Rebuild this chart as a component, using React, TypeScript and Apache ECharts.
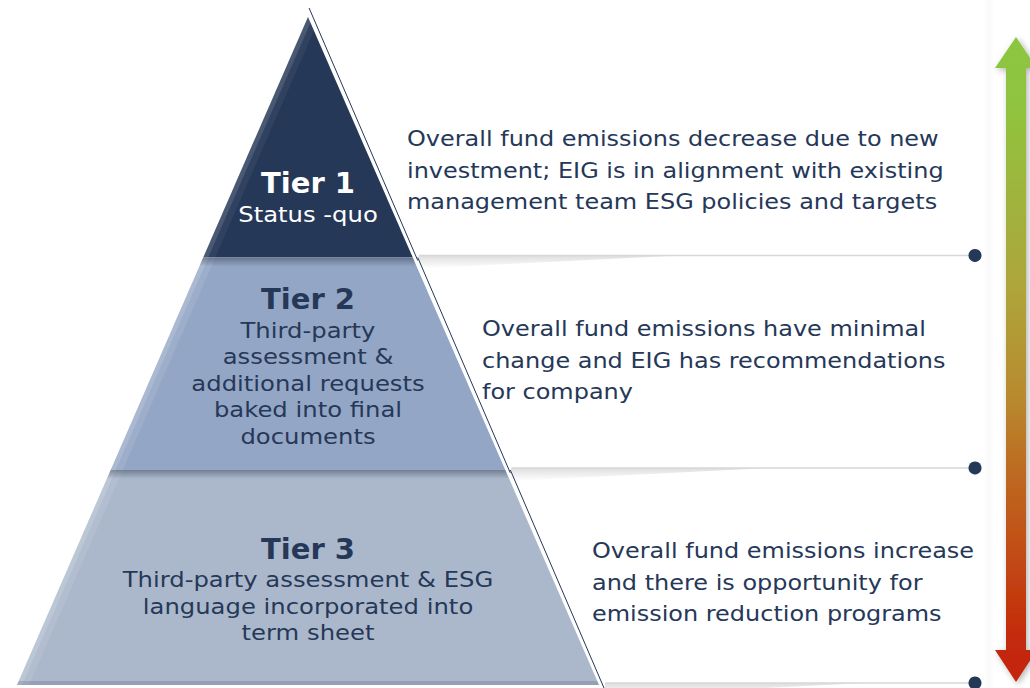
import React, { useEffect, useRef } from "react";
import * as echarts from "echarts";

// ---- data ----
const tierNames = ["Tier 1", "Tier 2", "Tier 3"];
const tierSubtitles = [
  "Status -quo",
  "Third-party\nassessment &\nadditional requests\nbaked into final\ndocuments",
  "Third-party assessment & ESG\nlanguage incorporated into\nterm sheet",
];
// tier extents on a 0 (apex) .. 100 (base) scale
const tierStart = [0, 36, 67.8];
const tierEnd = [36, 67.8, 100];
const descriptions = [
  "Overall fund emissions decrease due to new\ninvestment; EIG is in alignment with existing\nmanagement team ESG policies and targets",
  "Overall fund emissions have minimal\nchange and EIG has recommendations\nfor company",
  "Overall fund emissions increase\nand there is opportunity for\nemission reduction programs",
];

// ---- styles / layout ----
const NAVY = "#263858";
const tierFill = ["#263858", "#94a6c5", "#abb8cb"];
const tierText = ["#ffffff", NAVY, NAVY];
const titleLevel = [24.85, 42.2, 79.6];
const descX = [407, 482, 592];
const descY = [170, 360, 582];
const DOT_X = 975;
const FONT = "'DejaVu Sans', 'Open Sans', sans-serif";
const WIDEN_DESC = 1.115;
const WIDEN_SUB = 1.13;

export default function App() {
  const ref = useRef<HTMLDivElement>(null);
  useEffect(() => {
    if (!ref.current) return;
    const chart = echarts.init(ref.current, undefined, { renderer: "svg" });

    const renderItem = (params: any, api: any) => {
      const i = params.dataIndex;
      const s = api.value(1);
      const e = api.value(2);
      const tl = api.coord([-s / 100, s]);
      const tr = api.coord([s / 100, s]);
      const br = api.coord([e / 100, e]);
      const bl = api.coord([-e / 100, e]);
      const apex = api.coord([0, 0]);
      const base = api.coord([1, 100]);
      const k = (base[0] - apex[0]) / (base[1] - apex[1]);
      const children: any[] = [];

      children.push({
        type: "polygon",
        shape: { points: [tl, tr, br, bl] },
        style: { fill: tierFill[i] },
      });

      const strip = (w: number, alpha: number) => {
        let topInner: number[];
        if (tr[0] - tl[0] > w) topInner = [tl[0] + w, tl[1]];
        else topInner = [tl[0] + w / 2, tl[1] + w / (2 * k)];
        return {
          type: "polygon",
          shape: { points: [tl, topInner, [bl[0] + w, bl[1]], bl] },
          style: { fill: `rgba(255,255,255,${alpha})` },
          silent: true,
        };
      };
      children.push(strip(12, i === 0 ? 0.05 : 0.09));
      children.push(strip(5, i === 0 ? 0.12 : 0.14));

      if (i > 0) {
        const h = 9;
        children.push({
          type: "polygon",
          shape: {
            points: [tl, tr, [tr[0] + k * h, tr[1] + h], [tl[0] - k * h, tl[1] + h]],
          },
          style: {
            fill: new echarts.graphic.LinearGradient(0, 0, 0, 1, [
              { offset: 0, color: "rgba(20,30,50,0.38)" },
              { offset: 1, color: "rgba(20,30,50,0)" },
            ]),
          },
          silent: true,
        });
      }
      if (i === tierNames.length - 1) {
        const h = 4;
        children.push({
          type: "polygon",
          shape: { points: [[bl[0] + k * h, bl[1] - h], [br[0] - k * h, br[1] - h], br, bl] },
          style: { fill: "rgba(60,70,90,0.2)" },
          silent: true,
        });
      }

      const off = 5;
      const yTop = i === 0 ? tl[1] - 9 : tl[1];
      children.push({
        type: "line",
        shape: {
          x1: tr[0] + off + k * (yTop - tl[1]),
          y1: yTop,
          x2: br[0] + off,
          y2: br[1] + 3,
        },
        style: { stroke: NAVY, lineWidth: 1 },
        silent: true,
      });

      // tier title + subtitle
      const tc = api.coord([0, titleLevel[i]]);
      children.push({
        type: "text",
        x: tc[0],
        y: tc[1],
        style: {
          text: tierNames[i],
          align: "center",
          verticalAlign: "middle",
          fill: tierText[i],
          fontFamily: FONT,
          fontSize: 29,
          fontWeight: "bold",
        },
      });
      children.push({
        type: "text",
        x: tc[0],
        y: tc[1] + 18,
        scaleX: WIDEN_SUB,
        style: {
          text: tierSubtitles[i],
          align: "center",
          verticalAlign: "top",
          fill: tierText[i],
          fontFamily: FONT,
          fontSize: 21.5,
          lineHeight: 26.5,
        },
      });

      // separator line + shadow + dot
      const ly = br[1] - 2;
      const lx = br[0] + off + 1;
      children.push({
        type: "polygon",
        shape: { points: [[lx, ly], [lx + 260, ly], [lx, ly + 13]] },
        style: {
          fill: new echarts.graphic.LinearGradient(0, 0, 0, 1, [
            { offset: 0, color: "rgba(0,0,0,0.13)" },
            { offset: 1, color: "rgba(0,0,0,0)" },
          ]),
        },
        silent: true,
      });
      children.push({
        type: "line",
        shape: { x1: lx, y1: ly, x2: DOT_X, y2: ly },
        style: { stroke: "#d7d7d9", lineWidth: 1.5 },
        silent: true,
      });
      children.push({
        type: "circle",
        shape: { cx: DOT_X, cy: ly, r: 6.5 },
        style: { fill: NAVY },
      });

      children.push({
        type: "text",
        x: descX[i],
        y: descY[i],
        scaleX: WIDEN_DESC,
        style: {
          text: descriptions[i],
          fill: NAVY,
          fontFamily: FONT,
          fontSize: 21.5,
          lineHeight: 31.5,
          align: "left",
          verticalAlign: "middle",
        },
      });

      return { type: "group", children };
    };

    const ARROW_X = 1016;
    const arrow = {
      type: "polygon",
      shape: {
        points: [
          [ARROW_X, 37],
          [ARROW_X + 21, 68],
          [ARROW_X + 10, 68],
          [ARROW_X + 10, 650],
          [ARROW_X + 21, 650],
          [ARROW_X, 682],
          [ARROW_X - 21, 650],
          [ARROW_X - 10, 650],
          [ARROW_X - 10, 68],
          [ARROW_X - 21, 68],
        ],
      },
      style: {
        fill: new echarts.graphic.LinearGradient(0, 0, 0, 1, [
          { offset: 0, color: "#8cc63f" },
          { offset: 0.1, color: "#8fc43f" },
          { offset: 0.39, color: "#aea53a" },
          { offset: 0.56, color: "#b88a2e" },
          { offset: 0.67, color: "#bd6b22" },
          { offset: 0.81, color: "#c24a15" },
          { offset: 0.93, color: "#c42a0b" },
          { offset: 1, color: "#c4250a" },
        ]),
        shadowBlur: 6,
        shadowColor: "rgba(0,0,0,0.3)",
        shadowOffsetX: 2,
        shadowOffsetY: 2,
      },
    };

    chart.setOption({
      animation: false,
      backgroundColor: "#ffffff",
      grid: { left: 17, right: 431, top: 17, bottom: 3 },
      xAxis: { type: "value", min: -1, max: 1, show: false },
      yAxis: { type: "value", min: 0, max: 100, inverse: true, show: false },
      graphic: [
        {
          type: "rect",
          shape: { x: 984, y: 0, width: 10, height: 688 },
          style: {
            fill: new echarts.graphic.LinearGradient(0, 0, 1, 0, [
              { offset: 0, color: "rgba(0,0,0,0)" },
              { offset: 0.5, color: "rgba(0,0,0,0.02)" },
              { offset: 1, color: "rgba(0,0,0,0)" },
            ]),
          },
          silent: true,
          z: 0,
        },
        arrow,
      ],
      series: [
        {
          type: "custom",
          coordinateSystem: "cartesian2d",
          renderItem,
          data: tierNames.map((n, i) => ({ name: n, value: [i, tierStart[i], tierEnd[i]] })),
          encode: { x: 0, y: 1 },
          z: 2,
        },
      ],
    });
    return () => chart.dispose();
  }, []);

  return (
    <div
      ref={ref}
      style={{ position: "fixed", left: 0, top: 0, width: 1030, height: 688, background: "#fff" }}
    />
  );
}
